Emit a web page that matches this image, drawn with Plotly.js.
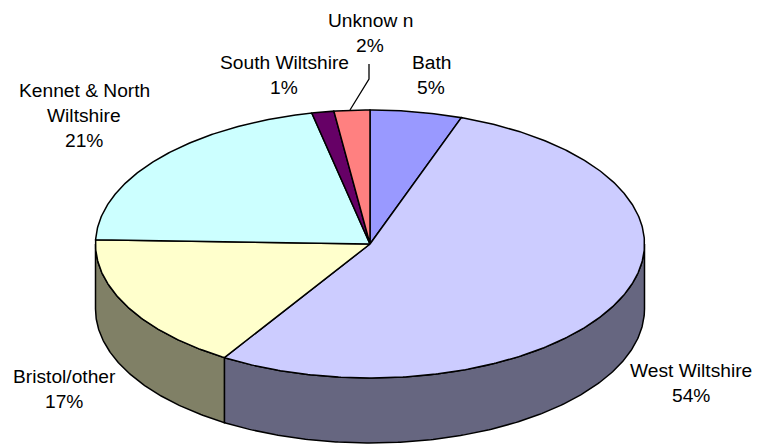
<!DOCTYPE html>
<html>
<head>
<meta charset="utf-8">
<script src="https://cdn.plot.ly/plotly-3.0.1.min.js"></script>
<style>html,body{margin:0;padding:0;background:#fff}#chart{width:757px;height:444px}</style>
</head>
<body>
<div id="chart"></div>
<script>
// Data (clockwise from 12 o'clock)
const categories = ["Bath", "West Wiltshire", "Bristol/other", "Kennet & North Wiltshire", "South Wiltshire", "Unknown"];
const shares = [5.4, 53.5, 16.6, 21.1, 1.3, 2.1];
const capColours = ["#9999FF", "#CCCCFF", "#FFFFCC", "#CCFFFF", "#660066", "#FF8080"];
const wallColours = ["#4D4D80", "#666680", "#808066", "#668080", "#330033", "#804040"];
const labelLines = [["Bath"], ["West Wiltshire"], ["Bristol/other"], ["Kennet & North", "Wiltshire"], ["South Wiltshire"], ["Unknow n"]];
const labelCentres = [[431, 62], [691, 370], [64, 376], [84, 90], [284, 62], [370, 20]];

// Tilted-disc projection
const cx = 370, cy = 244, rx = 274.5, ry = 134, depth = 65, lineGap = 25.2;
const total = shares.reduce((a, b) => a + b, 0);
const px = deg => cx + rx * Math.sin(deg * Math.PI / 180);
const py = (deg, drop) => cy - ry * Math.cos(deg * Math.PI / 180) + drop;
const arc = (a, b) => { const o = []; const n = Math.max(2, Math.ceil(Math.abs(b - a) * 2));
  for (let i = 0; i <= n; i++) o.push(a + (b - a) * i / n); return o; };

const walls = [], caps = [];
let start = 0;
shares.forEach((v, i) => {
  const end = start + v / total * 360;
  const base = { type: "scatter", mode: "lines", fill: "toself", hoverinfo: "skip", showlegend: false,
                 line: { color: "#000", width: 1.5 }, name: categories[i] };
  // side wall: only the part facing the viewer
  const a = Math.max(start, 90), b = Math.min(end, 270);
  if (b > a) {
    const t = arc(a, b), r = t.slice().reverse();
    walls.push(Object.assign({}, base, {
      x: t.map(px).concat(r.map(px), [px(a)]),
      y: t.map(d => py(d, 0)).concat(r.map(d => py(d, depth)), [py(a, 0)]),
      fillcolor: wallColours[i] }));
  }
  const t = arc(start, end);
  caps.push(Object.assign({}, base, {
    x: [cx].concat(t.map(px), [cx]),
    y: [cy].concat(t.map(d => py(d, 0)), [cy]),
    fillcolor: capColours[i] }));
  start = end;
});

// Leader line from the "Unknown" label to its slice
const leader = { type: "scatter", mode: "lines", hoverinfo: "skip", showlegend: false,
  x: [369, 369, 350], y: [64, 79, 110], line: { color: "#000", width: 1.3 } };

const annotations = [];
labelLines.forEach((lines, i) => {
  const all = lines.concat([Math.round(shares[i]) + "%"]);
  all.forEach((txt, k) => annotations.push({
    x: labelCentres[i][0], y: labelCentres[i][1] + k * lineGap, xref: "x", yref: "y",
    text: txt, showarrow: false, xanchor: "center", yanchor: "middle",
    font: { family: "Liberation Sans, Arial, sans-serif", size: 19.2, color: "#000" } }));
});

Plotly.newPlot("chart", walls.concat(caps, [leader]), {
  width: 757, height: 444, margin: { l: 0, r: 0, t: 0, b: 0 },
  paper_bgcolor: "#fff", plot_bgcolor: "#fff", showlegend: false,
  xaxis: { range: [0, 757], visible: false, fixedrange: true },
  yaxis: { range: [444, 0], visible: false, fixedrange: true },
  annotations: annotations
}, { displayModeBar: false, staticPlot: true });
</script>
</body>
</html>
